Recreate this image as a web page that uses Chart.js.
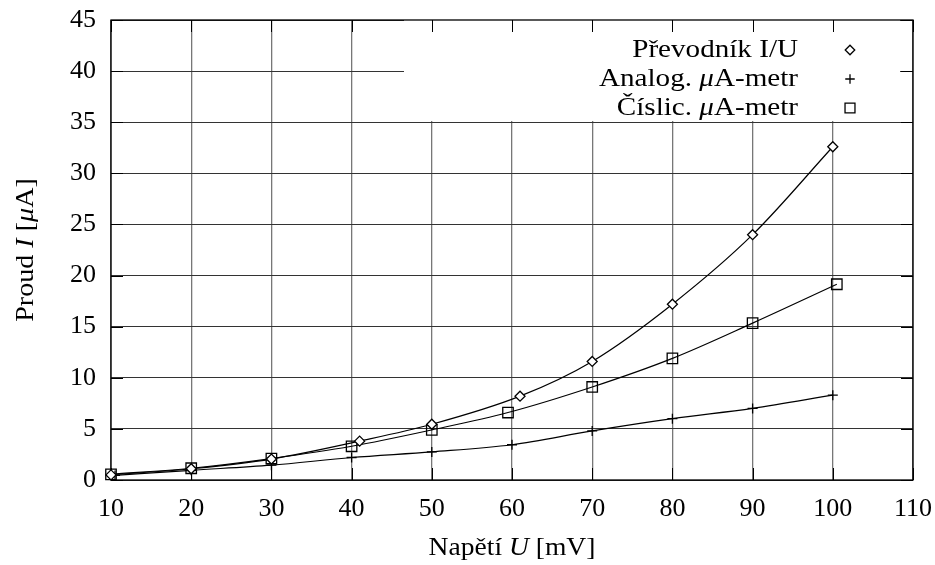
<!DOCTYPE html>
<html><head><meta charset="utf-8">
<script src="https://cdn.jsdelivr.net/npm/chart.js@4/dist/chart.umd.min.js"></script>
<style>html,body{margin:0;padding:0;background:#fff}#wrap{width:935px;height:565px}</style>
</head><body><div id="wrap"><canvas id="c" width="935" height="565"></canvas></div>
<script>
// ---- data ----
const seriesNames = ['Převodník I/U', 'Analog. μA-metr', 'Číslic. μA-metr'];
const prevodnikX = [10, 20, 30, 41, 50, 61, 70, 80, 90, 100];
const prevodnikY = [0.5, 1.1, 2.05, 3.8, 5.45, 8.2, 11.6, 17.2, 24.0, 32.6];
const analogX = [10.5, 20, 30, 40, 50, 60, 70, 80, 90, 100];
const analogY = [0.45, 0.95, 1.45, 2.2, 2.75, 3.45, 4.8, 6.0, 7.0, 8.3];
const cislicX = [10, 20, 30, 40, 50, 59.5, 70, 80, 90, 100.5];
const cislicY = [0.55, 1.15, 2.1, 3.3, 4.9, 6.6, 9.1, 11.9, 15.35, 19.15];
const xTicks = [10, 20, 30, 40, 50, 60, 70, 80, 90, 100, 110];
const yTicks = [0, 5, 10, 15, 20, 25, 30, 35, 40, 45];

const FONT = 'Liberation Serif';
const FS = 26;
const pts = (xs, ys) => xs.map((v, i) => ({x: v, y: ys[i]}));

const pointStyles = ['rectRot', 'cross', 'rect'];
const pointRadii = [5, 5, 7.4];
const AREA = {left: 111, top: 20, right: 913, bottom: 480};

function drawRuns(ctx, runs, x, y, align, size, hs) {
  let w = 0;
  runs.forEach(r => { ctx.font = (r.i ? 'italic ' : '') + size + 'px "' + FONT + '"'; r.w = ctx.measureText(r.t).width; w += r.w; });
  w *= hs;
  let cx = align === 'right' ? x - w : align === 'center' ? x - w / 2 : x;
  ctx.save();
  ctx.translate(cx, y);
  ctx.scale(hs, 1);
  ctx.textAlign = 'left';
  ctx.textBaseline = 'middle';
  let ox = 0;
  runs.forEach(r => { ctx.font = (r.i ? 'italic ' : '') + size + 'px "' + FONT + '"'; ctx.fillText(r.t, ox, 0); ox += r.w; });
  ctx.restore();
}
function splitMu(s) {
  const p = s.split('μ');
  const out = [];
  p.forEach((t, i) => { if (i > 0) out.push({t: 'μ', i: true}); if (t) out.push({t: t, i: false}); });
  return out;
}

const framePlugin = {
  id: 'frame',
  beforeDatasetsDraw(chart) {
    const {ctx, chartArea: a, scales: {x, y}} = chart;
    ctx.save();
    const bx0 = a.right - 509, bx1 = a.right - 13, by1 = a.top + 101;
    ctx.fillStyle = '#fff';
    ctx.fillRect(bx0, a.top, bx1 - bx0, by1 - a.top);
    ctx.strokeStyle = '#000';
    ctx.lineWidth = 1;
    ctx.beginPath();
    xTicks.forEach(v => {
      const px = Math.round(x.getPixelForValue(v)) + 0.5;
      ctx.moveTo(px, a.bottom); ctx.lineTo(px, a.bottom - 12);
      ctx.moveTo(px, a.top); ctx.lineTo(px, a.top + 12);
    });
    yTicks.forEach(v => {
      const py = Math.round(y.getPixelForValue(v)) + 0.5;
      ctx.moveTo(a.left, py); ctx.lineTo(a.left + 12, py);
      ctx.moveTo(a.right, py); ctx.lineTo(a.right - 12, py);
    });
    ctx.stroke();
    ctx.lineWidth = 1.3;
    ctx.strokeRect(a.left, a.top, a.right - a.left, a.bottom - a.top);
    ctx.fillStyle = '#000';
    const tx = a.right - 115, mx = a.right - 63;
    seriesNames.forEach((name, i) => {
      const ry = a.top + 30 + i * 29;
      drawRuns(ctx, splitMu(name), tx, ry, 'right', FS, 1.12);
      ctx.fillStyle = '#fff';
      ctx.strokeStyle = '#000';
      ctx.lineWidth = 1.3;
      Chart.helpers.drawPoint(ctx, {pointStyle: pointStyles[i], radius: pointRadii[i] * 0.95, rotation: 0, borderWidth: 1.3}, mx, ry);
      ctx.fillStyle = '#000';
    });
    ctx.restore();
  },
  afterDraw(chart) {
    const {ctx, chartArea: a} = chart;
    ctx.save();
    ctx.fillStyle = '#000';
    drawRuns(ctx, [{t: 'Napětí ', i: false}, {t: 'U', i: true}, {t: ' [mV]', i: false}], (a.left + a.right) / 2, 548, 'center', FS, 1.06);
    ctx.translate(26, (a.top + a.bottom) / 2);
    ctx.rotate(-Math.PI / 2);
    drawRuns(ctx, [{t: 'Proud ', i: false}, {t: 'I', i: true}, {t: ' [', i: false}, {t: 'μ', i: true}, {t: 'A]', i: false}], 0, 0, 'center', FS, 1.08);
    ctx.restore();
  }
};

const common = {
  showLine: true, borderColor: '#000', borderWidth: 1.2, cubicInterpolationMode: 'monotone',
  pointBackgroundColor: '#fff', pointBorderColor: '#000', pointBorderWidth: 1.3, clip: false
};
const noOverflow = s => { s.paddingTop = 0; s.paddingBottom = 0; s.paddingLeft = 0; s.paddingRight = 0; };

const pad = {top: 20, right: 22, left: 0, bottom: 0};
const chart = new Chart(document.getElementById('c'), {
  type: 'scatter',
  data: {
    datasets: [
      Object.assign({}, common, {label: seriesNames[0], data: pts(prevodnikX, prevodnikY), pointStyle: pointStyles[0], pointRadius: pointRadii[0], order: 0}),
      Object.assign({}, common, {label: seriesNames[1], data: pts(analogX, analogY), pointStyle: pointStyles[1], pointRadius: pointRadii[1], order: 1}),
      Object.assign({}, common, {label: seriesNames[2], data: pts(cislicX, cislicY), pointStyle: pointStyles[2], pointRadius: pointRadii[2], pointBackgroundColor: 'rgba(0,0,0,0)', order: 2})
    ]
  },
  options: {
    responsive: false, animation: false, devicePixelRatio: 1,
    layout: {padding: pad},
    plugins: {legend: {display: false}, tooltip: {enabled: false}},
    scales: {
      x: {
        type: 'linear', min: 10, max: 110,
        afterBuildTicks: s => { s.ticks = xTicks.map(v => ({value: v})); },
        afterFit: s => { s.height = 565 - AREA.bottom - pad.bottom; noOverflow(s); },
        grid: {color: '#777', lineWidth: 1.3, drawTicks: false},
        border: {display: false},
        ticks: {color: '#000', font: {family: FONT, size: FS}, padding: 14, maxRotation: 0, autoSkip: false}
      },
      y: {
        type: 'linear', min: 0, max: 45,
        afterBuildTicks: s => { s.ticks = yTicks.map(v => ({value: v})); },
        afterFit: s => { s.width = AREA.left - pad.left; noOverflow(s); },
        grid: {color: '#333', lineWidth: 1, drawTicks: false},
        border: {display: false},
        ticks: {color: '#000', font: {family: FONT, size: FS}, padding: 15, autoSkip: false}
      }
    }
  },
  plugins: [framePlugin]
});
for (let k = 0; k < 4; k++) {
  const ca = chart.chartArea;
  const dt = AREA.top - ca.top, dr = ca.right - AREA.right, dl = AREA.left - ca.left, db = ca.bottom - AREA.bottom;
  if (Math.abs(dt) < 0.5 && Math.abs(dr) < 0.5 && Math.abs(dl) < 0.5 && Math.abs(db) < 0.5) break;
  pad.top += dt; pad.right += dr; pad.left += dl; pad.bottom += db;
  chart.options.layout.padding = Object.assign({}, pad);
  chart.update();
}
</script></body></html>
